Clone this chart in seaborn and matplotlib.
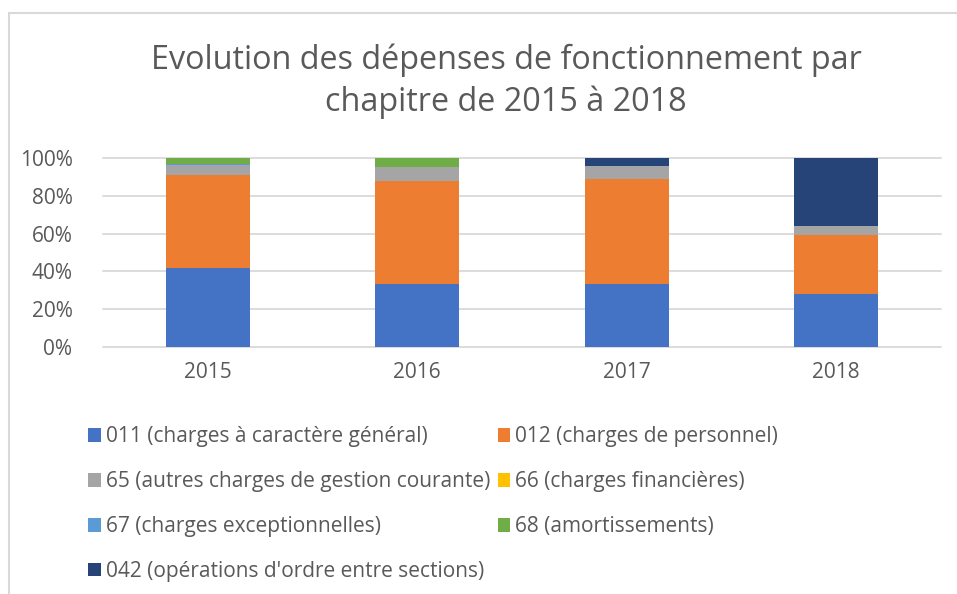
import numpy as np
import pandas as pd
import seaborn as sns
import matplotlib.pyplot as plt
from matplotlib.patches import Patch, Rectangle
from matplotlib.ticker import PercentFormatter

years = ["2015", "2016", "2017", "2018"]
chapitres = [
    "011 (charges à caractère général)",
    "012 (charges de personnel)",
    "65 (autres charges de gestion courante)",
    "66 (charges financières)",
    "67 (charges exceptionnelles)",
    "68 (amortissements)",
    "042 (opérations d'ordre entre sections)",
]
colors = ["#4472C4", "#ED7D31", "#A5A5A5", "#FFC000", "#5B9BD5", "#70AD47", "#264478"]

# parts (%)
c011 = [41.6, 33.5, 33.5, 28.0]
c012 = [49.6, 54.3, 55.5, 31.3]
c65 = [5.2, 7.4, 6.8, 4.5]
c66 = [0.0, 0.0, 0.0, 0.0]
c67 = [0.6, 0.0, 0.0, 0.0]
c68 = [3.0, 4.8, 0.0, 0.0]
c042 = [0.0, 0.0, 4.2, 36.2]

series = [c011, c012, c65, c66, c67, c68, c042]
df = pd.DataFrame(np.array(series).T, columns=chapitres, index=years)
df = df.div(df.sum(axis=1), axis=0)
cum = df.cumsum(axis=1)

sns.set_style("white")
plt.rcParams['font.family'] = ['Open Sans', 'DejaVu Sans']
grey = "#595959"

fig = plt.figure(figsize=(9.57, 5.94), dpi=100)
ax = fig.add_axes([103 / 957, 1 - 347 / 594, 838 / 957, 189 / 594])

# draw cumulative layers from top to bottom so each one hides the next
for name, col in reversed(list(zip(chapitres, colors))):
    sns.barplot(x=years, y=cum[name].values, color=col, width=0.4,
                saturation=1, edgecolor="none", ax=ax, zorder=3)

ax.set_ylim(0, 1)
ax.set_yticks(np.arange(0, 1.01, 0.2))
ax.yaxis.set_major_formatter(PercentFormatter(1, decimals=0))
ax.grid(axis="y", color="#d9d9d9", linewidth=1.3, zorder=0)
for g in ax.get_ygridlines():
    g.set_clip_on(False)
sns.despine(ax=ax, left=True, bottom=True)
ax.tick_params(axis="both", length=0, labelsize=15, colors=grey, pad=11)
ax.tick_params(axis="y", pad=22)
ax.set_xlabel("")
ax.set_ylabel("")

fig.text(506 / 957, 1 - 60 / 594, "Evolution des dépenses de fonctionnement par",
         ha="center", va="center", fontsize=23.3, color=grey)
fig.text(506 / 957, 1 - 102 / 594, "chapitre de 2015 à 2018",
         ha="center", va="center", fontsize=23.3, color=grey)

# chart area frame (only top-left part visible)
fig.patches.append(Rectangle((9 / 957, -0.1), 1.2, 1 - 13 / 594 + 0.1,
                             transform=fig.transFigure, fill=False,
                             edgecolor="#d9d9d9", linewidth=1.5))

handles = [Patch(facecolor=c, edgecolor="none") for c in colors]
order = [0, 2, 4, 6, 1, 3, 5]
fig.legend([handles[i] for i in order], [chapitres[i] for i in order],
           loc="upper left", bbox_to_anchor=(80 / 957, 1 - 418 / 594),
           ncol=2, frameon=False, fontsize=15, labelcolor=grey,
           handlelength=0.6, handleheight=0.6, handletextpad=0.25,
           columnspacing=0.35, labelspacing=1.15, borderaxespad=0)

fig.savefig("out.png", dpi=100)
